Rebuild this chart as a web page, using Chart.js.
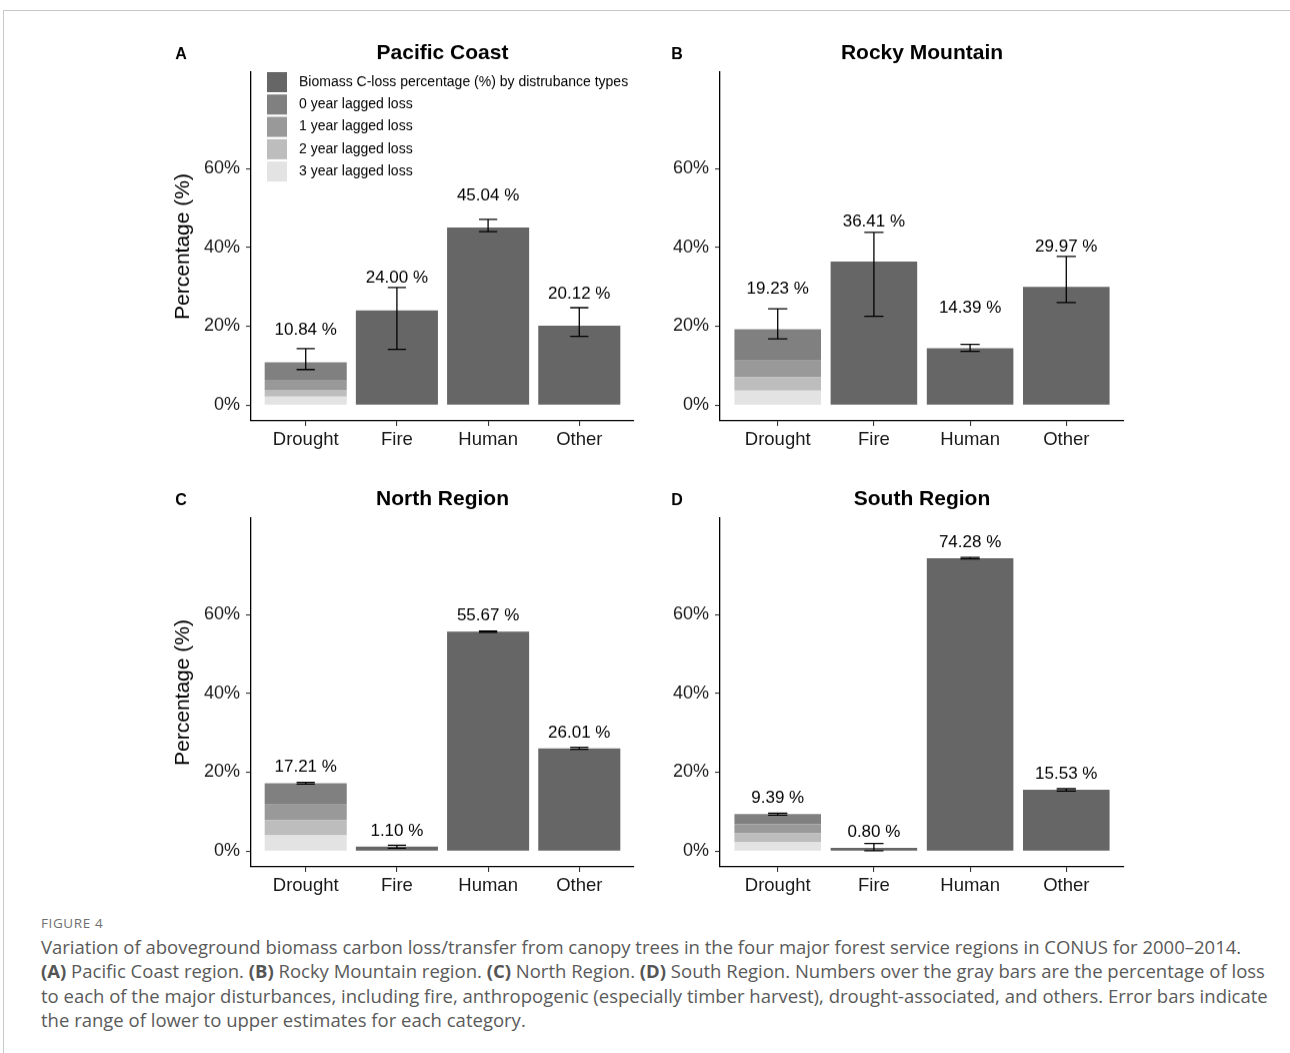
<!doctype html>
<html lang="en">
<head>
<meta charset="UTF-8">
<title>Figure 4</title>
<script src="https://cdn.jsdelivr.net/npm/chart.js"></script>
<style>
    body { margin: 0; background: #fff; }
    #page { position: relative; width: 1290px; height: 1053px; overflow: hidden; }
    #frame { position: absolute; left: 3px; top: 10px; right: 0; bottom: 0;
             border-top: 1px solid #c8c8c8; border-left: 1px solid #c8c8c8; }
    canvas { position: absolute; }
    #fig { position: absolute; left: 41px; top: 914px; font-family: 'Open Sans', sans-serif;
           font-size: 13.5px; color: #707070; letter-spacing: 0.6px; }
    #caption { position: absolute; left: 41px; top: 935px; font-family: 'Open Sans', sans-serif;
               font-size: 18.5px; line-height: 24.4px; color: #5a5a5a; white-space: nowrap; }
    #caption b { font-weight: 700; color: #555; }
</style>
</head>
<body>
<div id="page">
    <div id="frame"></div>
    <canvas id="chartA"></canvas>
    <canvas id="chartB"></canvas>
    <canvas id="chartC"></canvas>
    <canvas id="chartD"></canvas>
    <div id="fig">FIGURE 4</div>
    <div id="caption">
        Variation of aboveground biomass carbon loss/transfer from canopy trees in the four major forest service regions in CONUS for 2000–2014.<br>
        <b>(A)</b> Pacific Coast region. <b>(B)</b> Rocky Mountain region. <b>(C)</b> North Region. <b>(D)</b> South Region. Numbers over the gray bars are the percentage of loss<br>
        to each of the major disturbances, including fire, anthropogenic (especially timber harvest), drought-associated, and others. Error bars indicate<br>
        the range of lower to upper estimates for each category.
    </div>
</div>

<script>
    // ---- data ----
    var categories = ['Drought', 'Fire', 'Human', 'Other'];
    var yTicks = [0, 20, 40, 60];
    var legendLabels = ['Biomass C-loss percentage (%) by distrubance types', '0 year lagged loss',
                        '1 year lagged loss', '2 year lagged loss', '3 year lagged loss'];

    // total C-loss percentage per disturbance type
    var pacificTotal = [10.84, 24.00, 45.04, 20.12];
    var rockyTotal   = [19.23, 36.41, 14.39, 29.97];
    var northTotal   = [17.21, 1.10, 55.67, 26.01];
    var southTotal   = [9.39, 0.80, 74.28, 15.53];

    // lower / upper estimates (error bars)
    var pacificLow  = [9.0, 14.1, 44.0, 17.4];
    var pacificHigh = [14.3, 29.8, 47.1, 24.7];
    var rockyLow    = [16.8, 22.5, 13.6, 26.0];
    var rockyHigh   = [24.4, 43.8, 15.4, 37.7];
    var northLow    = [17.0, 0.7, 55.5, 25.8];
    var northHigh   = [17.4, 1.5, 55.8, 26.3];
    var southLow    = [9.1, 0.1, 74.1, 15.2];
    var southHigh   = [9.6, 1.9, 74.5, 15.8];

    // drought split by lag: [0 year, 1 year, 2 year, 3 year]
    var pacificLag = [4.44, 2.54, 1.70, 2.16];
    var rockyLag   = [7.93, 4.24, 3.38, 3.68];
    var northLag   = [5.41, 4.00, 3.80, 4.00];
    var southLag   = [2.62, 2.28, 2.13, 2.36];

    // ---- styles / layout ----
    var colors = ['#666666', '#808080', '#999999', '#bdbdbd', '#e3e3e3'];
    var FONT = "'Liberation Sans', Arial, sans-serif";

    var panels = [
        {id: 'chartA', letter: 'A', title: 'Pacific Coast', total: pacificTotal, low: pacificLow, high: pacificHigh,
         lag: pacificLag, left: 251, right: 634, top: 72, bottom: 420.5, gap: 32, tagDx: 70, yTitle: true, legend: true},
        {id: 'chartB', letter: 'B', title: 'Rocky Mountain', total: rockyTotal, low: rockyLow, high: rockyHigh,
         lag: rockyLag, left: 720, right: 1124, top: 72, bottom: 420.5, gap: 40, tagDx: 43, yTitle: false, legend: false},
        {id: 'chartC', letter: 'C', title: 'North Region', total: northTotal, low: northLow, high: northHigh,
         lag: northLag, left: 251, right: 634, top: 518, bottom: 866.5, gap: 16, tagDx: 70, yTitle: true, legend: false},
        {id: 'chartD', letter: 'D', title: 'South Region', total: southTotal, low: southLow, high: southHigh,
         lag: southLag, left: 720, right: 1124, top: 518, bottom: 866.5, gap: 16, tagDx: 43, yTitle: false, legend: false}
    ];

    var PAD_L = 100, PAD_T = 52, PAD_R = 8, PAD_B = 45;

    // draws titles, error bars, value labels and the legend
    var decoPlugin = {
        id: 'deco',
        afterDatasetsDraw: function (chart, args, opts) {
            var p = opts.panel;
            var ctx = chart.ctx;
            var xs = chart.scales.x, ys = chart.scales.y;
            var area = chart.chartArea;
            ctx.save();

            // error bars
            ctx.strokeStyle = '#000';
            ctx.lineWidth = 1.3;
            for (var i = 0; i < categories.length; i++) {
                var cx = xs.getPixelForValue(i + 1);
                var half = (xs.getPixelForValue(1.1) - xs.getPixelForValue(1));
                var yl = ys.getPixelForValue(p.low[i]);
                var yh = ys.getPixelForValue(p.high[i]);
                ctx.beginPath();
                ctx.moveTo(cx, yl); ctx.lineTo(cx, yh);
                ctx.moveTo(cx - half, yl); ctx.lineTo(cx + half, yl);
                ctx.moveTo(cx - half, yh); ctx.lineTo(cx + half, yh);
                ctx.stroke();
            }

            // value labels
            ctx.fillStyle = '#000';
            ctx.font = '17px ' + FONT;
            ctx.textAlign = 'center';
            ctx.textBaseline = 'middle';
            for (var j = 0; j < categories.length; j++) {
                ctx.fillText(p.total[j].toFixed(2) + ' %', xs.getPixelForValue(j + 1),
                    ys.getPixelForValue(p.total[j]) - p.gap);
            }

            // title and panel letter
            ctx.font = 'bold 21px ' + FONT;
            ctx.fillText(p.title, (area.left + area.right) / 2, area.top - 19);
            ctx.font = 'bold 16px ' + FONT;
            ctx.fillText(p.letter, area.left - p.tagDx, area.top - 17);

            // y axis title
            if (p.yTitle) {
                ctx.save();
                ctx.translate(area.left - 68, (area.top + area.bottom) / 2);
                ctx.rotate(-Math.PI / 2);
                ctx.font = '21px ' + FONT;
                ctx.fillText('Percentage (%)', 0, 0);
                ctx.restore();
            }

            // legend inside the plot
            if (p.legend) {
                ctx.textAlign = 'left';
                ctx.font = '14px ' + FONT;
                for (var k = 0; k < legendLabels.length; k++) {
                    var cy = area.top + 10 + k * 22.3;
                    ctx.fillStyle = colors[k];
                    ctx.fillRect(area.left + 16, cy - 10, 20, 20);
                    ctx.fillStyle = '#000';
                    ctx.fillText(legendLabels[k], area.left + 48, cy);
                }
            }
            ctx.restore();
        }
    };

    panels.forEach(function (p) {
        var canvas = document.getElementById(p.id);
        var w = p.right - p.left + PAD_L + PAD_R;
        var h = p.bottom - p.top + PAD_T + PAD_B;
        canvas.width = w;
        canvas.height = h;
        canvas.style.width = w + 'px';
        canvas.style.height = h + 'px';
        canvas.style.left = (p.left - PAD_L) + 'px';
        canvas.style.top = (p.top - PAD_T) + 'px';

        var main = categories.map(function (c, i) { return {x: i + 1, y: i === 0 ? null : p.total[i]}; });
        var datasets = [];
        // stacked drought parts, bottom first: 3 year ... 0 year
        for (var k = 3; k >= 0; k--) {
            datasets.push({
                label: legendLabels[k + 1],
                data: categories.map(function (c, i) { return {x: i + 1, y: i === 0 ? p.lag[k] : null}; }),
                backgroundColor: colors[k + 1]
            });
        }
        datasets.push({label: legendLabels[0], data: main, backgroundColor: colors[0]});

        new Chart(canvas, {
            type: 'bar',
            data: {datasets: datasets},
            options: {
                responsive: false,
                animation: false,
                devicePixelRatio: 1,
                barPercentage: 0.9,
                categoryPercentage: 1.0,
                layout: {padding: {left: 0, top: PAD_T, right: PAD_R, bottom: 0}},
                plugins: {
                    legend: {display: false},
                    tooltip: {enabled: false},
                    deco: {panel: p}
                },
                scales: {
                    x: {
                        type: 'linear',
                        stacked: true,
                        offset: false,
                        min: 0.4,
                        max: 4.6,
                        afterBuildTicks: function (s) { s.ticks = categories.map(function (c, i) { return {value: i + 1}; }); },
                        afterFit: function (s) { s.height = PAD_B; },
                        ticks: {
                            callback: function (v) { return categories[v - 1]; },
                            font: {family: FONT, size: 18.5},
                            color: '#1a1a1a',
                            padding: 3,
                            maxRotation: 0,
                            autoSkip: false
                        },
                        grid: {drawOnChartArea: false, drawTicks: true, tickLength: 5, color: '#333', lineWidth: 1.1, offset: false},
                        border: {display: true, color: '#000', width: 1.3}
                    },
                    y: {
                        stacked: true,
                        min: -4.02,
                        max: 84.42,
                        afterBuildTicks: function (s) { s.ticks = yTicks.map(function (v) { return {value: v}; }); },
                        afterFit: function (s) { s.width = PAD_L; },
                        ticks: {
                            callback: function (v) { return v + '%'; },
                            font: {family: FONT, size: 18},
                            color: '#1a1a1a',
                            padding: 6
                        },
                        grid: {drawOnChartArea: false, drawTicks: true, tickLength: 5, color: '#333', lineWidth: 1.1},
                        border: {display: true, color: '#000', width: 1.3}
                    }
                }
            },
            plugins: [decoPlugin]
        });
    });
</script>
</body>
</html>
